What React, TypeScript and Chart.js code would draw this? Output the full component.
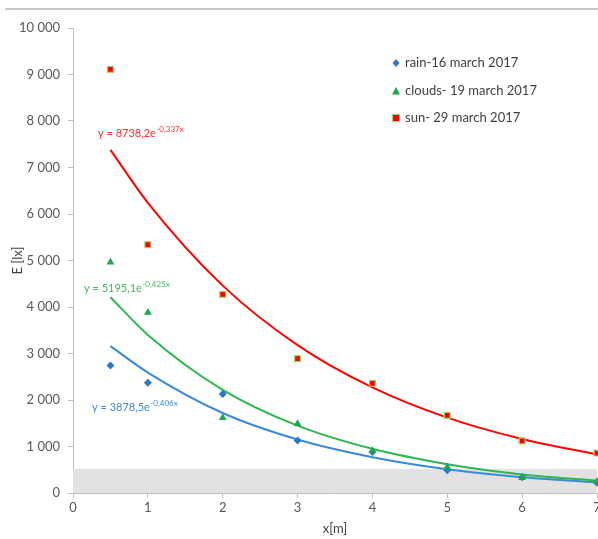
import React, { useEffect, useRef } from "react";
import { Chart, registerables } from "chart.js";

Chart.register(...registerables);

const xPositions = [0.5, 1, 2, 3, 4, 5, 6, 7];
const rainValues = [2740, 2370, 2130, 1130, 880, 490, 340, 220];
const cloudsValues = [4960, 3880, 1620, 1490, 910, 560, 330, 250];
const sunValues = [9110, 5340, 4270, 2890, 2360, 1670, 1120, 860];
const rainTrend = [3160, 2590, 1720, 1150, 770, 510, 340, 230];
const cloudsTrend = [4210, 3400, 2220, 1450, 950, 620, 400, 265];
const sunTrend = [7380, 6240, 4460, 3180, 2270, 1620, 1160, 830];
const seriesNames = ["rain-16 march 2017", "clouds- 19 march 2017", "sun- 29 march 2017"];
const equationMain = ["y = 3878,5e", "y = 5195,1e", "y = 8738,2e"];
const equationExp = ["-0,406x", "-0,425x", "-0,337x"];
const shadedLimit = 520;
const xTitle = "x[m]";
const yTitle = "E [lx]";

const BLUE = "#2a78c8";
const BLUE_LINE = "#3a8ad6";
const GREEN = "#1fa64b";
const GREEN_LINE = "#2cb84f";
const RED = "#ff0000";
const SUN_BORDER = "#9fd86a";
const FONT = "Lato, 'Open Sans', sans-serif";

const toPts = (vals: number[]) => vals.map((y, i) => ({ x: xPositions[i], y }));

function drawMarker(ctx: CanvasRenderingContext2D, kind: number, x: number, y: number) {
  ctx.save();
  if (kind === 0) {
    ctx.fillStyle = BLUE;
    ctx.beginPath();
    ctx.moveTo(x, y - 4);
    ctx.lineTo(x + 3.5, y);
    ctx.lineTo(x, y + 4);
    ctx.lineTo(x - 3.5, y);
    ctx.closePath();
    ctx.fill();
  } else if (kind === 1) {
    ctx.fillStyle = GREEN;
    ctx.beginPath();
    ctx.moveTo(x, y - 4);
    ctx.lineTo(x + 4, y + 3.5);
    ctx.lineTo(x - 4, y + 3.5);
    ctx.closePath();
    ctx.fill();
  } else {
    ctx.fillStyle = SUN_BORDER;
    ctx.fillRect(x - 4, y - 4, 8, 8);
    ctx.fillStyle = RED;
    ctx.fillRect(x - 3, y - 3, 6, 6);
  }
  ctx.restore();
}

const decorPlugin = {
  id: "decor",
  beforeDatasetsDraw(chart: any) {
    const { ctx, chartArea, scales } = chart;
    const yTop = scales.y.getPixelForValue(shadedLimit);
    const yBot = scales.y.getPixelForValue(0);
    ctx.save();
    ctx.fillStyle = "#e2e2e2";
    ctx.fillRect(chartArea.left, yTop, chartArea.right - chartArea.left, yBot - yTop);
    ctx.restore();
  },
  afterDraw(chart: any) {
    const { ctx } = chart;
    ctx.save();
    ctx.strokeStyle = "#c8c8c8";
    ctx.lineWidth = 2;
    ctx.beginPath();
    ctx.moveTo(5, 9);
    ctx.lineTo(chart.width, 9);
    ctx.stroke();

    const legendY = [63, 91, 118];
    ctx.font = `13px ${FONT}`;
    ctx.textBaseline = "middle";
    seriesNames.forEach((name, i) => {
      drawMarker(ctx, i, 396, legendY[i]);
      ctx.fillStyle = "#404040";
      ctx.fillText(name, 405, legendY[i]);
    });

    const eqPos = [
      [92, 407, BLUE_LINE],
      [84, 288, "#3dbb5a"],
      [98, 133, "#ff3030"],
    ];
    eqPos.forEach((p, i) => {
      const [x, y, color] = p as [number, number, string];
      ctx.fillStyle = color;
      ctx.font = `11px ${FONT}`;
      ctx.textBaseline = "middle";
      ctx.fillText(equationMain[i], x, y);
      const w = ctx.measureText(equationMain[i]).width;
      ctx.font = `8px ${FONT}`;
      ctx.fillText(equationExp[i], x + w + 0.5, y - 4);
    });
    ctx.restore();
  },
};

export default function App() {
  const canvasRef = useRef<HTMLCanvasElement | null>(null);

  useEffect(() => {
    const canvas = canvasRef.current;
    if (!canvas) return;
    const chart = new Chart(canvas, {
      type: "line",
      data: {
        datasets: [
          {
            label: seriesNames[2],
            data: toPts(sunValues),
            showLine: false,
            pointStyle: "rect",
            pointRadius: 4.2,
            pointBackgroundColor: RED,
            pointBorderColor: SUN_BORDER,
            pointBorderWidth: 1.2,
            clip: 10,
          },
          {
            label: seriesNames[1],
            data: toPts(cloudsValues),
            showLine: false,
            pointStyle: "triangle",
            pointRadius: 4.5,
            pointBackgroundColor: GREEN,
            pointBorderColor: GREEN,
            pointBorderWidth: 0,
            clip: 10,
          },
          {
            label: seriesNames[0],
            data: toPts(rainValues),
            showLine: false,
            pointStyle: "rectRot",
            pointRadius: 4,
            pointBackgroundColor: BLUE,
            pointBorderColor: BLUE,
            pointBorderWidth: 0,
            clip: 10,
          },
          {
            label: "sun trend",
            data: toPts(sunTrend),
            borderColor: RED,
            borderWidth: 2,
            pointRadius: 0,
            cubicInterpolationMode: "monotone",
            fill: false,
            clip: 10,
          },
          {
            label: "clouds trend",
            data: toPts(cloudsTrend),
            borderColor: GREEN_LINE,
            borderWidth: 2,
            pointRadius: 0,
            cubicInterpolationMode: "monotone",
            fill: false,
            clip: 10,
          },
          {
            label: "rain trend",
            data: toPts(rainTrend),
            borderColor: BLUE_LINE,
            borderWidth: 2,
            pointRadius: 0,
            cubicInterpolationMode: "monotone",
            fill: false,
            clip: 10,
          },
        ],
      },
      options: {
        animation: false,
        responsive: false,
        maintainAspectRatio: false,
        layout: { autoPadding: false, padding: { top: 28, right: 1, left: 0, bottom: 0 } },
        plugins: {
          legend: { display: false },
          tooltip: { enabled: false },
        },
        scales: {
          x: {
            type: "linear",
            min: 0,
            max: 7,
            afterFit: (s: any) => {
              s.height = 46;
              s.paddingRight = 0;
              s.paddingLeft = 0;
            },
            ticks: {
              stepSize: 1,
              color: "#595959",
              font: { family: FONT, size: 13 },
              padding: 2,
              maxRotation: 0,
              autoSkip: false,
            },
            grid: {
              drawOnChartArea: false,
              drawTicks: true,
              tickLength: 5,
              color: "#bfbfbf",
            },
            border: { color: "#bfbfbf", width: 1 },
            title: {
              display: true,
              text: xTitle,
              color: "#404040",
              font: { family: FONT, size: 13 },
              padding: { top: 0, bottom: 2 },
            },
          },
          y: {
            min: 0,
            max: 10000,
            afterFit: (s: any) => {
              s.width = 73;
              s.paddingTop = 0;
              s.paddingBottom = 0;
            },
            ticks: {
              stepSize: 1000,
              color: "#595959",
              font: { family: FONT, size: 13 },
              padding: 8,
              callback: (v: any) => String(v).replace(/\B(?=(\d{3})+(?!\d))/g, " "),
            },
            grid: {
              drawOnChartArea: false,
              drawTicks: true,
              tickLength: 5,
              color: "#bfbfbf",
            },
            border: { color: "#bfbfbf", width: 1 },
            title: {
              display: true,
              text: yTitle,
              color: "#404040",
              font: { family: FONT, size: 13 },
              padding: { top: 10, bottom: 0 },
            },
          },
        },
      },
      plugins: [decorPlugin],
    });
    return () => chart.destroy();
  }, []);

  return (
    <div style={{ position: "fixed", left: 0, top: 0, width: 598, height: 539, background: "#fff" }}>
      <canvas ref={canvasRef} width={598} height={539} style={{ display: "block", width: 598, height: 539 }} />
    </div>
  );
}
